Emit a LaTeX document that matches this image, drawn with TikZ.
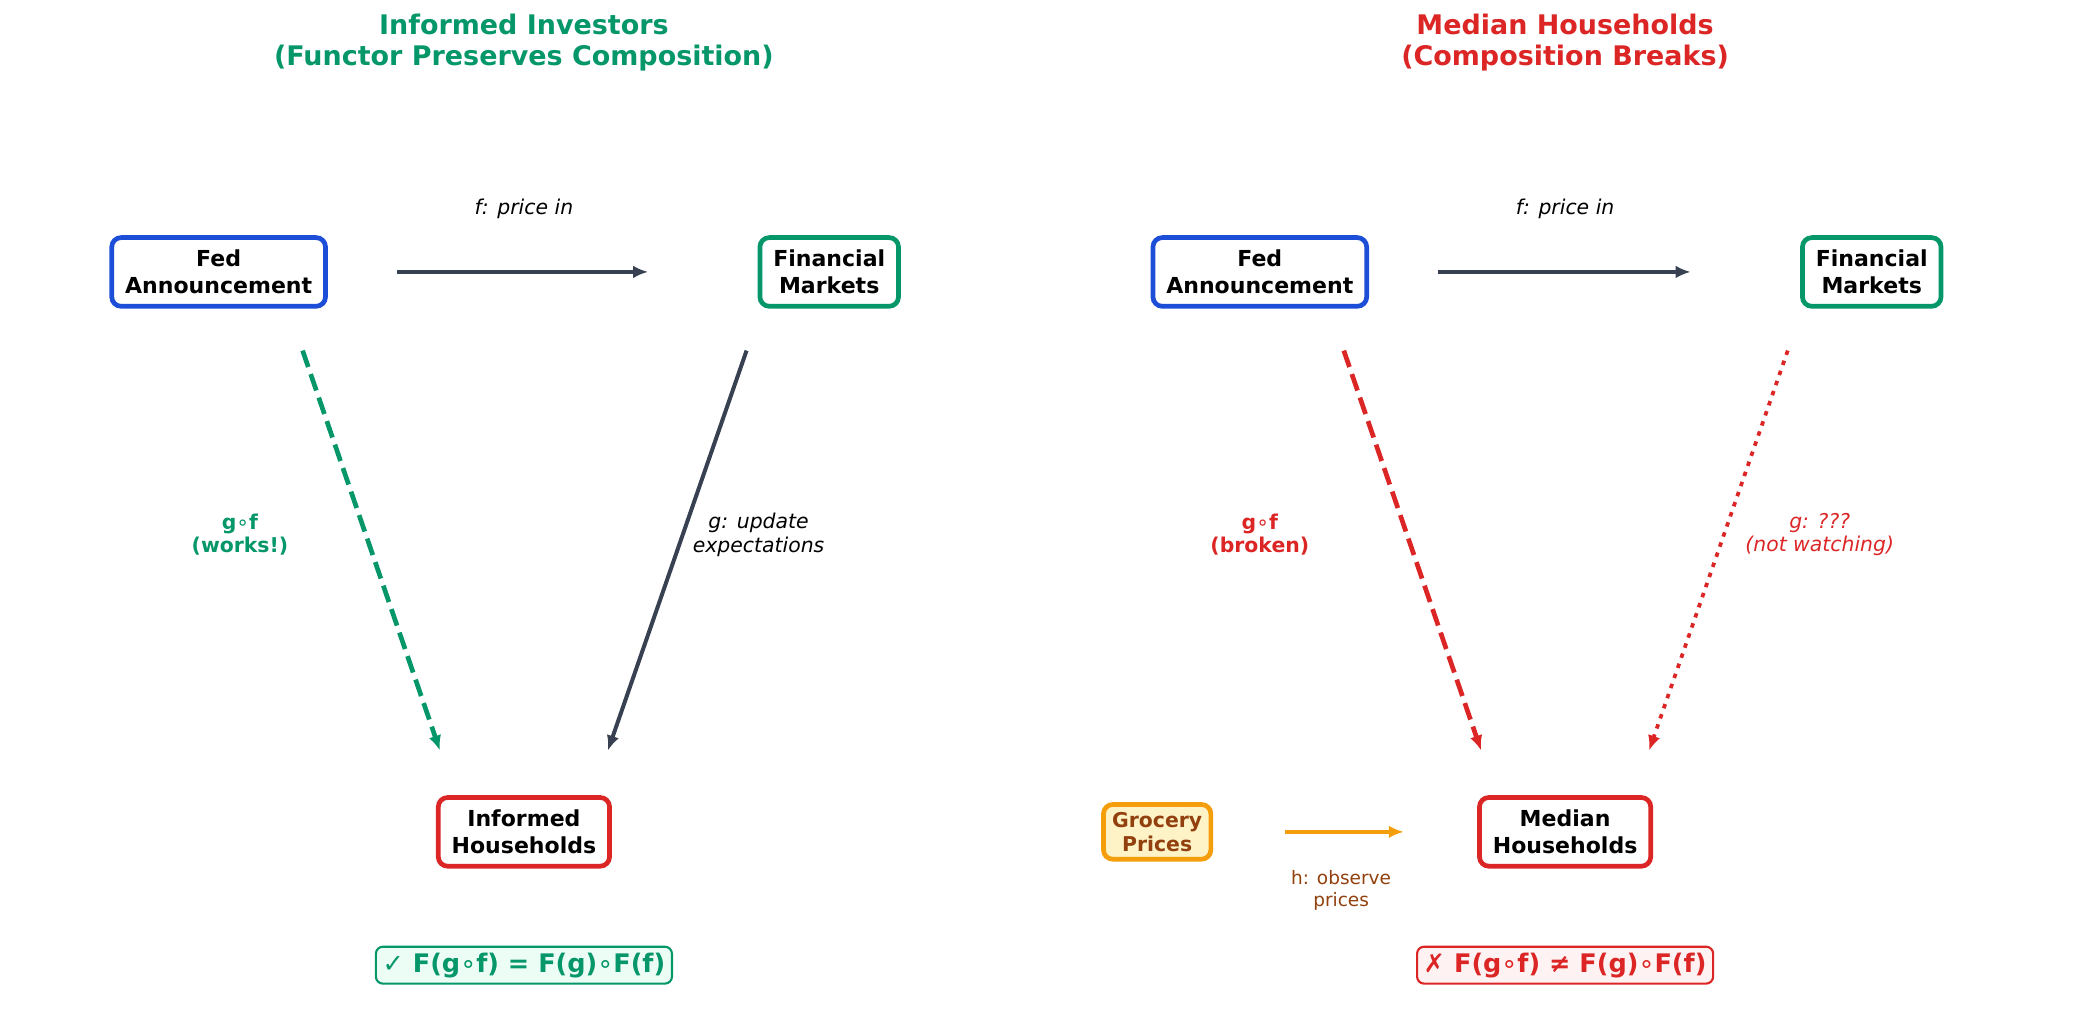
\documentclass[tikz,border=0pt]{standalone}
\usepackage{fontspec}
\setmainfont{DejaVu Sans}
\usetikzlibrary{arrows.meta, positioning}
\definecolor{fedblue}{HTML}{1D4ED8}
\definecolor{okgreen}{HTML}{059669}
\definecolor{okfill}{HTML}{ECFDF5}
\definecolor{badred}{HTML}{DC2626}
\definecolor{badfill}{HTML}{FEF2F2}
\definecolor{slate}{HTML}{374151}
\definecolor{amber}{HTML}{F59E0B}
\definecolor{amberfill}{HTML}{FEF3C7}
\definecolor{grocbrown}{HTML}{92400E}
\newcommand{\cmp}{{\mdseries ∘}}
\newcommand{\okmark}{{\mdseries ✓}}
\newcommand{\badmark}{{\mdseries ✗}}

\begin{document}
\begin{tikzpicture}[x=0.01cm, y=-0.01cm,
    box/.style={draw, line width=1pt, rounded corners=2pt, fill=white, align=center,
        font=\fontsize{4.7}{5.65}\selectfont\bfseries, inner xsep=0.1cm, inner ysep=0.05cm, minimum height=0.515cm},
    title/.style={align=center, font=\fontsize{5.75}{6.7}\selectfont\bfseries},
    lbl/.style={align=center, font=\fontsize{4.35}{5.1}\selectfont\itshape},
    lblbf/.style={align=center, font=\fontsize{4.35}{5.1}\selectfont\bfseries},
    arr/.style={line width=1pt, -{Latex[length=3.2pt,width=2.7pt]}},
    law/.style={draw, line width=0.45pt, rounded corners=1.5pt, inner xsep=0.05cm,
        inner ysep=0.045cm, font=\fontsize{5.45}{6.5}\selectfont\bfseries},
]
\useasboundingbox (0,0) rectangle (1564,774);

% informed investors
\node[title, text=okgreen] (titleL) at (393,32) {Informed Investors\\(Functor Preserves Composition)};
\node[box, draw=fedblue] (fedL) at (164,204) {Fed\\Announcement};
\node[box, draw=okgreen] (mktL) at (622,204) {Financial\\Markets};
\node[box, draw=badred] (hhL) at (393,624) {Informed\\Households};
\node[law, draw=okgreen, fill=okfill, text=okgreen] (lawL) at (393,724) {\okmark\ F(g\cmp f) = F(g)\cmp F(f)};

\coordinate (gfLs) at (227,263);
\coordinate (gfLe) at (330,563);
\coordinate (gLs) at (560,263);
\coordinate (gLe) at (456,563);

\draw[arr, slate, shorten <=0.52cm, shorten >=0.82cm] (fedL) -- (mktL);
\draw[arr, okgreen, dash pattern=on 3.7\pgflinewidth off 1.6\pgflinewidth] (gfLs) -- (gfLe);
\draw[arr, slate, line width=0.85pt] (gLs) -- (gLe);

\node[lbl] (fLlbl) at (393,157) {f: price in};
\node[lblbf, text=okgreen] (gfLlbl) at (180,401) {g\cmp f\\(works!)};
\node[lbl] (gLlbl) at (569,401) {g: update\\expectations};

% median households
\node[title, text=badred] (titleR) at (1174,32) {Median Households\\(Composition Breaks)};
\node[box, draw=fedblue] (fedR) at (945,204) {Fed\\Announcement};
\node[box, draw=okgreen] (mktR) at (1404,204) {Financial\\Markets};
\node[box, draw=badred] (hhR) at (1174,624) {Median\\Households};
\node[box, draw=amber, fill=amberfill, text=grocbrown, font=\fontsize{4.35}{5.1}\selectfont\bfseries,
    inner xsep=0.065cm, inner ysep=0.03cm, minimum height=0.41cm] (groc) at (868,624) {Grocery\\Prices};
\node[law, draw=badred, fill=badfill, text=badred] (lawR) at (1174,724) {\badmark\ F(g\cmp f) ≠ F(g)\cmp F(f)};

\coordinate (gfRs) at (1008,263);
\coordinate (gfRe) at (1111,563);
\coordinate (gRs) at (1341,263);
\coordinate (gRe) at (1237,563);

\draw[arr, slate, shorten <=0.52cm, shorten >=0.82cm] (fedR) -- (mktR);
\draw[arr, badred, dash pattern=on 3.7\pgflinewidth off 1.6\pgflinewidth] (gfRs) -- (gfRe);
\draw[arr, badred, line width=0.8pt, dash pattern=on 1.2\pgflinewidth off 1.65\pgflinewidth] (gRs) -- (gRe);
\draw[arr, amber, shorten <=0.54cm, shorten >=0.55cm] (groc) -- (hhR);

\node[lbl] (fRlbl) at (1174,157) {f: price in};
\node[lblbf, text=badred] (gfRlbl) at (945,401) {g\cmp f\\(broken)};
\node[lbl, text=badred] (gRlbl) at (1365,401) {g: ???\\(not watching)};
\node[align=center, text=grocbrown, font=\fontsize{3.95}{4.65}\selectfont] (hlbl) at (1006,668) {h: observe\\prices};
\end{tikzpicture}
\end{document}
